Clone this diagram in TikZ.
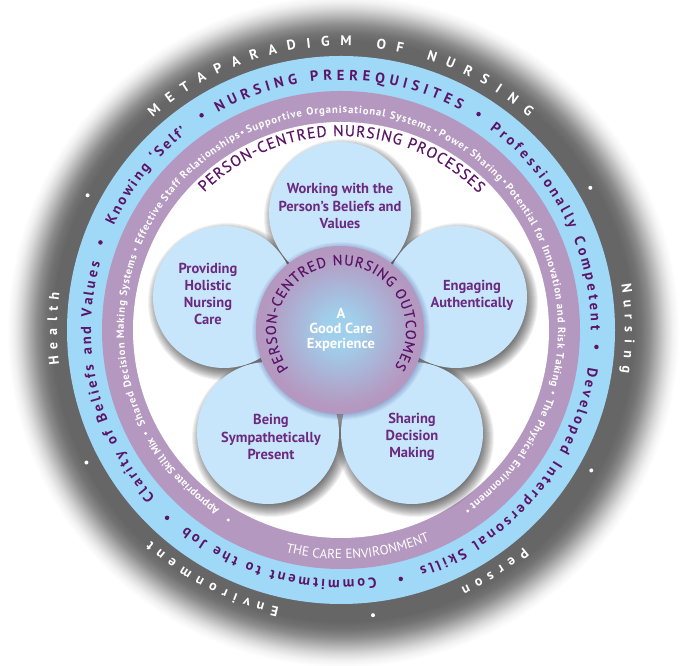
\documentclass[tikz,border=0pt]{standalone}
\usepackage{fontspec}
\setmainfont{PT Sans}
\newfontfamily\medfont[FakeBold=0.3]{PT Sans}
\usetikzlibrary{decorations.text,calc}
\definecolor{ringblue}{HTML}{A0D8F8}
\definecolor{ringpurple}{HTML}{B598C0}
\definecolor{petalblue}{HTML}{C8E6FB}
\definecolor{darkplum}{HTML}{5B1467}
\definecolor{petaltext}{HTML}{6B2A80}
\definecolor{dgray}{HTML}{666666}
\definecolor{midblue}{HTML}{A0CFEC}
\pgfdeclareradialshading{grayfade}{\pgfpointorigin}{
 color(0bp)=(dgray); color(21.6bp)=(dgray); color(22.2bp)=(dgray!92!white); color(22.8bp)=(dgray!75!white); color(23.4bp)=(dgray!50!white);
 color(24bp)=(dgray!25!white); color(24.5bp)=(dgray!9!white); color(25bp)=(white); color(50bp)=(white)}
\pgfdeclareradialshading{centerfade}{\pgfpointorigin}{
 color(0bp)=(midblue); color(5bp)=(midblue); color(20bp)=(ringpurple!85!midblue); color(23bp)=(ringpurple); color(25bp)=(ringpurple); color(50bp)=(ringpurple)}
\newcommand{\arctxt}[5]{%
 \path[decorate,decoration={text along path,text align={fit to path},text={|#4|#5}}]
   (C) ++({90-#2}:#1pt) arc[start angle={90-#2},end angle={90-#3},radius=#1pt];}
\newcommand{\softshadow}[3]{%
 \foreach \d in {-5,...,8}{\fill[black,opacity=0.05] ($(#1)+(#2)$) circle[radius={#3pt+\d pt}];}}
\newcommand{\fblue}{\fontsize{14.5}{17}\selectfont\bfseries\color{darkplum}}
\newcommand{\fring}{\fontsize{10.6}{13}\selectfont\bfseries\color{white}}
\newcommand{\fmeta}{\fontsize{14}{17}\selectfont\bfseries\color{white}}
\newcommand{\fhead}{\medfont\fontsize{15.5}{19}\selectfont\color{darkplum}}
\newcommand{\fout}{\medfont\fontsize{14.5}{17}\selectfont\color{darkplum}}
\tikzset{
 x=1pt,y=1pt,
 petal/.style={fill=petalblue,draw=none},
 petaltxt/.style={align=center,text=petaltext,font=\fontsize{14.5}{17.3}\selectfont\bfseries,inner sep=0pt},
 whitedot/.style={circle,fill=white,draw=none,minimum size=4pt,inner sep=0pt},
 plumdot/.style={circle,fill=darkplum,draw=none,minimum size=4.5pt,inner sep=0pt},
 ringdot/.style={circle,fill=white,draw=none,minimum size=3.2pt,inner sep=0pt},
}
\begin{document}
\begin{tikzpicture}
\useasboundingbox (0,0) rectangle (680,666);
\fill[white] (0,0) rectangle (680,666);
\coordinate (C) at (341,336);
\coordinate (S) at (343,335);
\shade[shading=grayfade] (S) circle[radius=336pt];
\fill[ringblue] (C) circle[radius=274pt];
\fill[ringpurple] (C) circle[radius=239pt];
\fill[white] (C) circle[radius=208pt];
% petal centres
\coordinate (pa) at (340,453);
\coordinate (pb) at (456,369);
\coordinate (pc) at (412,233);
\coordinate (pd) at (268,233);
\coordinate (pe) at (224,369);
\coordinate (pm) at (340,336);
\foreach \p in {pa,pb,pc,pd,pe}{\softshadow{\p}{3,-5}{71}}
\foreach \p in {pa,pb,pc,pd,pe}{\fill[petal] (\p) circle[radius=71pt];}
\node[petaltxt] (ta) at (340,460) {Working with the\\Person’s Beliefs and\\Values};
\node[petaltxt] (tb) at (472,371) {Engaging\\Authentically};
\node[petaltxt] (tc) at (412,229) {Sharing\\Decision\\Making};
\node[petaltxt] (td) at (271,229) {Being\\Sympathetically\\Present};
\node[petaltxt] (te) at (208,372) {Providing\\Holistic\\Nursing\\Care};
% centre
\foreach \d in {-2,...,5}{\fill[black!60!blue,opacity=0.04] ($(pm)+(1,-1)$) circle[radius={84pt+\d pt}];}
\shade[shading=centerfade] (pm) circle[radius=84pt];
\node[align=center,text=white,font=\fontsize{14.5}{15}\selectfont\bfseries,inner sep=0pt] (tm) at (341,336) {A\\Good Care\\Experience};
% outer ring
\arctxt{284}{-41.5}{41.3}{\fmeta}{METAPARADIGM OF NURSING}
\arctxt{284}{80.7}{98.6}{\fmeta}{Nursing}
\arctxt{284}{140}{155}{\fmeta}{Person}
\arctxt{284}{192.6}{222}{\fmeta}{Environment}
\arctxt{284}{263}{277.6}{\fmeta}{Health}
\foreach \a/\n in {298/o1,242.5/o2,60.3/o3,119.3/o4,173.6/o5}{\node[whitedot] (\n) at ($(C)+({90-\a}:287pt)$) {};}
% blue ring
\arctxt{250}{-29.5}{28.5}{\fblue}{NURSING PREREQUISITES}
\arctxt{250}{36.5}{90}{\fblue}{Professionally Competent}
\arctxt{250}{98.6}{161.7}{\fblue}{Developed Interpersonal Skills}
\arctxt{250}{172}{218.2}{\fblue}{Commitment to the Job}
\arctxt{250}{228}{285.5}{\fblue}{Clarity of Beliefs and Values}
\arctxt{250}{294.7}{322}{\fblue}{Knowing ‘Self’}
\foreach \a/\n in {32.5/b1,93.8/b2,166.5/b3,222.8/b4,290/b5,327/b6}{\node[plumdot] (\n) at ($(C)+({90-\a}:256pt)$) {};}
% purple ring
\arctxt{217}{214}{240.4}{\fring}{Appropriate Skill Mix}
\arctxt{217}{244.2}{289.9}{\fring}{Shared Decision Making Systems}
\arctxt{217}{293}{332.4}{\fring}{Effective Staff Relationships}
\arctxt{217}{334.6}{384.1}{\fring}{Supportive Organisational Systems}
\arctxt{217}{26.6}{46.8}{\fring}{Power Sharing}
\arctxt{217}{49}{105}{\fring}{Potential for Innovation and Risk Taking}
\arctxt{217}{108.3}{143.6}{\fring}{The Physical Environment}
\foreach \a/\n in {210.7/r1,242.1/r2,291.4/r3,333.4/r4,25.3/r5,47.8/r6,106.5/r7,145/r8}{\node[ringdot] (\n) at ($(C)+({90-\a}:221pt)$) {};}
\arctxt{229}{194}{157.5}{\fontsize{13.2}{16}\selectfont\color{white}}{THE CARE ENVIRONMENT}
% processes / outcomes
\arctxt{194}{-44.8}{45.2}{\fhead}{PERSON-CENTRED NURSING PROCESSES}
\arctxt{65}{-126.4}{124.6}{\fout}{PERSON-CENTRED NURSING OUTCOMES}
\end{tikzpicture}
\end{document}
